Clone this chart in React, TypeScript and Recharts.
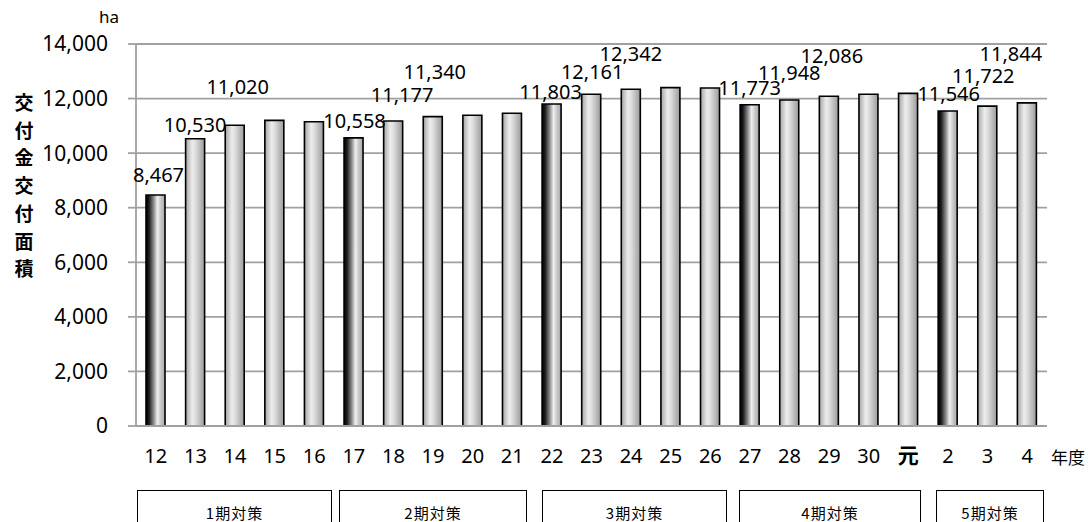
import React from 'react';
import { BarChart, Bar, XAxis, YAxis, CartesianGrid, Cell, LabelList } from 'recharts';

// ---- Data ----
const categories = ['12', '13', '14', '15', '16', '17', '18', '19', '20', '21', '22', '23', '24', '25', '26', '27', '28', '29', '30', '元', '2', '3', '4'];
const areaValues = [8467, 10530, 11020, 11200, 11150, 10558, 11177, 11340, 11390, 11460, 11803, 12161, 12342, 12400, 12390, 11773, 11948, 12086, 12160, 12190, 11546, 11722, 11844];
const periodStartCategories = ['12', '17', '22', '27', '2'];
const labeledCategories = ['12', '13', '14', '17', '18', '19', '22', '23', '24', '27', '28', '29', '2', '3', '4'];
const yTicks = [0, 2000, 4000, 6000, 8000, 10000, 12000, 14000];
const periodNames = ['1期対策', '2期対策', '3期対策', '4期対策', '5期対策'];
const yTitle = '交付金交付面積';
const yUnit = 'ha';
const xUnit = '年度';

// ---- Layout (label staggering, period boxes) ----
const labelOffsets: Record<string, [number, number]> = {
  '12': [3, -20], '13': [0, -14], '14': [3, -38],
  '17': [1, -17], '18': [9, -26], '19': [2, -45],
  '22': [-1, -12], '23': [1, -22], '24': [0, -35],
  '27': [0, -17], '28': [0, -27], '29': [3, -40],
  '2': [1, -17], '3': [-4, -30], '4': [-16, -49],
};
const periodBoxes: [number, number][] = [[137, 332], [339, 527], [542, 727], [739, 921], [936, 1044]];

const data = categories.map((c, i) => ({
  year: c,
  area: areaValues[i],
  start: periodStartCategories.includes(c),
  labeled: labeledCategories.includes(c),
}));

const NUM_FONT = '"Noto Sans", "DejaVu Sans", sans-serif';
const CJK_FONT = '"Noto Sans CJK JP", "Noto Sans", sans-serif';
const GRID = '#a0a0a0';

const fmt = (v: number) => v.toLocaleString('en-US');

const XTick = (props: any) => {
  const { x, y, payload } = props;
  const isKanji = payload.value === '元';
  return (
    <text
      x={x}
      y={y}
      dy="0.35em"
      textAnchor="middle"
      fontSize={isKanji ? 21 : 20}
      fontWeight={isKanji ? 700 : 400}
      fontFamily={isKanji ? CJK_FONT : NUM_FONT}
      fill="#000"
    >
      {payload.value}
    </text>
  );
};

const BarLabel = (props: any) => {
  const { x, y, width, value, index } = props;
  const d = data[index];
  if (!d || !d.labeled) return null;
  const off = labelOffsets[d.year] || [0, -14];
  return (
    <text
      x={x + width / 2 + off[0]}
      y={y + off[1]}
      dy="0.35em"
      textAnchor="middle"
      fontSize={20}
      fontFamily={NUM_FONT}
      fill="#000"
    >
      {fmt(value)}
    </text>
  );
};

export default function App() {
  return (
    <div style={{ position: 'absolute', left: 0, top: 0, width: 1088, height: 522, overflow: 'hidden', background: '#fff' }}>
      <BarChart
        width={1088}
        height={522}
        data={data}
        margin={{ top: 44, right: 41, left: 0, bottom: 56 }}
      >
        <defs>
          <linearGradient id="gLight" x1="0" y1="0" x2="1" y2="0">
            <stop offset="0%" stopColor="#a4a4a4" />
            <stop offset="35%" stopColor="#ececec" />
            <stop offset="50%" stopColor="#e0e0e0" />
            <stop offset="80%" stopColor="#b6b6b6" />
            <stop offset="100%" stopColor="#9c9c9c" />
          </linearGradient>
          <linearGradient id="gDark" x1="0" y1="0" x2="1" y2="0">
            <stop offset="0%" stopColor="#000000" />
            <stop offset="15%" stopColor="#1a1a1a" />
            <stop offset="40%" stopColor="#8a8a8a" />
            <stop offset="60%" stopColor="#eeeeee" />
            <stop offset="80%" stopColor="#c4c4c4" />
            <stop offset="100%" stopColor="#a8a8a8" />
          </linearGradient>
        </defs>
        <CartesianGrid vertical={false} stroke={GRID} strokeWidth={1.8} />
        <XAxis
          dataKey="year"
          height={40}
          axisLine={{ stroke: GRID, strokeWidth: 1.8 }}
          tickLine={false}
          tickSize={0}
          tickMargin={30}
          interval={0}
          tick={<XTick />}
        />
        <YAxis
          width={136}
          domain={[0, 14000]}
          ticks={yTicks}
          tickFormatter={fmt}
          axisLine={{ stroke: GRID, strokeWidth: 1.8 }}
          tickLine={{ stroke: GRID, strokeWidth: 1.8 }}
          tickSize={8}
          tickMargin={20}
          tick={{ fontSize: 21, fontFamily: NUM_FONT, fill: '#000' }}
        />
        <Bar dataKey="area" barSize={19} stroke="#000" strokeWidth={1.6} isAnimationActive={false}>
          {data.map((d) => (
            <Cell key={d.year} fill={d.start ? 'url(#gDark)' : 'url(#gLight)'} />
          ))}
          <LabelList dataKey="area" content={<BarLabel />} />
        </Bar>
      </BarChart>

      {/* unit labels */}
      <div style={{ position: 'absolute', left: 99, top: 6, fontSize: 17, fontFamily: NUM_FONT, lineHeight: '22px', color: '#000' }}>{yUnit}</div>
      <div style={{ position: 'absolute', left: 1051, top: 446, fontSize: 17, fontFamily: CJK_FONT, lineHeight: '22px', color: '#000' }}>{xUnit}</div>

      {/* vertical y-axis title */}
      <div style={{ position: 'absolute', left: 14, top: 88, width: 20, fontSize: 19, fontWeight: 700, fontFamily: CJK_FONT, lineHeight: '27.7px', textAlign: 'center', color: '#000' }}>
        {yTitle.split('').map((ch, i) => (
          <div key={i}>{ch}</div>
        ))}
      </div>

      {/* period boxes */}
      {periodBoxes.map(([l, r], i) => (
        <div
          key={i}
          style={{
            position: 'absolute',
            left: l,
            top: 490,
            width: r - l,
            height: 50,
            border: '1.5px solid #000',
            boxSizing: 'border-box',
            background: '#fff',
          }}
        >
          <div style={{ position: 'absolute', left: 0, right: 0, top: 13, textAlign: 'center', fontSize: 15, letterSpacing: 1, fontFamily: CJK_FONT, lineHeight: '18px', color: '#000' }}>
            {periodNames[i]}
          </div>
        </div>
      ))}
    </div>
  );
}
